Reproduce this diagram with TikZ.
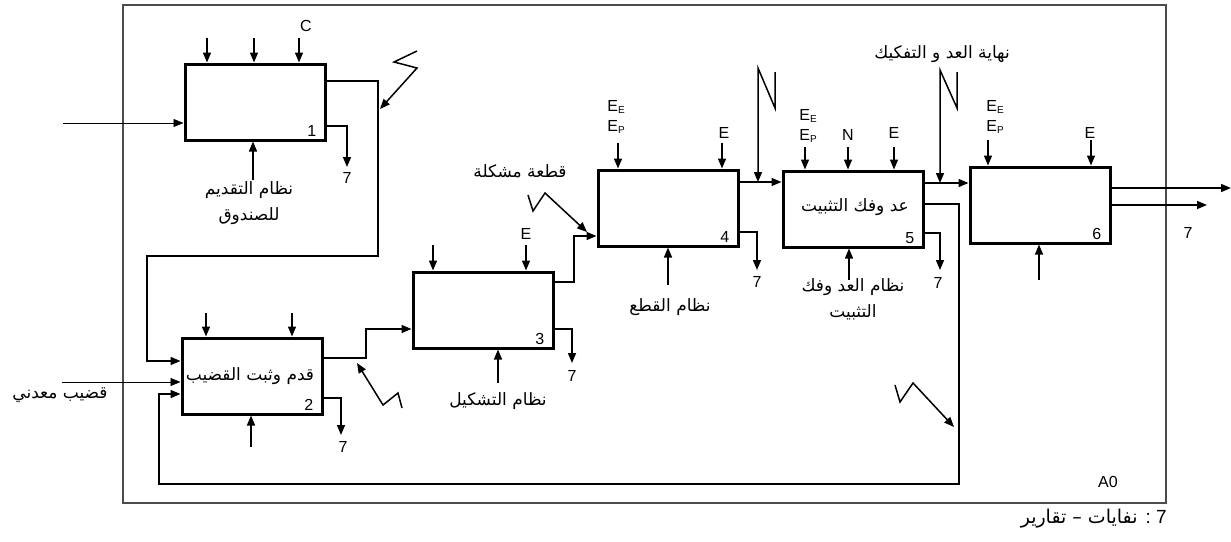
\documentclass[tikz,border=0pt]{standalone}
\usepackage{fontspec}
\setmainfont{Liberation Sans}
\newfontfamily\arabicfont[Script=Arabic]{DejaVu Sans}
\TeXXeTstate=1
\usetikzlibrary{arrows.meta,calc}
\newcommand{\artx}[1]{\beginR #1\endR}
\newcommand{\Esb}[1]{\raisebox{-2.5pt}{\fontsize{10}{10}\selectfont #1}}
\begin{document}
\begin{tikzpicture}[x=1pt,y=-1pt,
  box/.style={draw, line width=3pt, minimum width=140pt, minimum height=76pt, inner sep=0pt},
  con/.style={line width=1.5pt, -{Triangle[length=10pt,width=8pt]}},
  thinarr/.style={line width=0.6pt, -{Triangle[length=10pt,width=8pt]}},
  lat/.style={font=\fontsize{16}{20}\selectfont, inner sep=0pt},
  num/.style={font=\fontsize{16}{20}\selectfont, inner sep=0pt, anchor=south east},
  arl/.style={font=\arabicfont\fontsize{17}{26}\selectfont, align=center, inner sep=0pt},
  frame/.style={draw=black!70, line width=1.4pt}
]
\useasboundingbox (0,0) rectangle (1231,541);
\draw[frame] (123,5) rectangle (1166,503);

% boxes
\node[box] (b1) at (255,102) {};
\node[box] (b2) at (252,376) {};
\node[box] (b3) at (483,310) {};
\node[box] (b4) at (668,208) {};
\node[box] (b5) at (853,209) {};
\node[box] (b6) at (1040,205) {};

\node[num] (n1) at ($(b1.south east)+(-10,-5)$) {1};
\node[num] (n2) at ($(b2.south east)+(-10,-5)$) {2};
\node[num] (n3) at ($(b3.south east)+(-10,-5)$) {3};
\node[num] (n4) at ($(b4.south east)+(-10,-5)$) {4};
\node[num] (n5) at ($(b5.south east)+(-10,-5)$) {5};
\node[num] (n6) at ($(b6.south east)+(-10,-5)$) {6};

\node[arl] (t2) at (250,376) {\artx{قدم وثبت القضيب}};
\node[arl] (t5) at (855,207) {\artx{عد وفك التثبيت}};

% ---- box 1
\foreach \x in {207,254,299} \draw[con] (\x,38) -- (\x,0 |- b1.north);
\node[lat] (c1) at (306,26) {C};
\coordinate (in1) at (63,123);
\draw[thinarr] (in1) -- (b1.west |- in1);
\draw[con] (253,180) -- (253,0 |- b1.south);
\node[arl] (m1) at (249,203) {\artx{نظام التقديم}\\\artx{للصندوق}};
\draw[con] (b1.east |- 0,126) -| (347,167);
\node[lat] (o1) at (347,178) {7};
\coordinate (f1) at (147,361);
\draw[con] (b1.east |- 0,81) -- (378,81) -- (378,256) -- (147,256) -- (f1) -- (b2.west |- f1);
\draw[con] (417,51) -- (394,62) -- (417,68) -- (380,109);

% ---- box 2
\foreach \x in {206,292} \draw[con] (\x,313) -- (\x,0 |- b2.north);
\coordinate (in2) at (62,382);
\draw[thinarr] (in2) -- (b2.west |- in2);
\node[arl] (m2in) at (60,395) {\artx{قضيب معدني}};
\draw[con] (251,447) -- (251,0 |- b2.south);
\draw[con] (b2.east |- 0,398) -| (341,435);
\node[lat] (o2) at (343,447) {7};
\draw[con] (b2.east |- 0,358) -- (366,358) -- (366,329) -- (b3.west |- 0,329);
\draw[con] (402,408) -- (398,393) -- (383,405) -- (357,363);

% ---- box 3
\foreach \x in {433,526} \draw[con] (\x,245) -- (\x,0 |- b3.north);
\node[lat] (e3) at (526,234) {E};
\draw[con] (498,383) -- (498,0 |- b3.south);
\node[arl] (m3) at (498,401) {\artx{نظام التشكيل}};
\draw[con] (b3.east |- 0,329) -| (572,363);
\node[lat] (o3) at (572,376) {7};
\draw[con] (b3.east |- 0,282) -- (574,282) -- (574,236) -- (b4.west |- 0,236);
\node[arl] (m3b) at (520,171) {\artx{قطعة مشكلة}};
\draw[con] (528,195) -- (533,211) -- (545,193) -- (587,232);

% ---- box 4
\foreach \x in {618,722} \draw[con] (\x,143) -- (\x,0 |- b4.north);
\node[lat, align=left] (e4a) at (616,117) {E\Esb{E}\\E\Esb{P}};
\node[lat] (e4b) at (724,133) {E};
\draw[con] (668,285) -- (668,0 |- b4.south);
\node[arl] (m4) at (670,307) {\artx{نظام القطع}};
\draw[con] (b4.east |- 0,232) -| (757,270);
\node[lat] (o4) at (757,282) {7};
\draw[con] (b4.east |- 0,182) -- (b5.west |- 0,182);
\draw[con] (775,72) -- (775,108) -- (758,68) -- (758,182);

% ---- box 5
\foreach \x in {805,848,894} \draw[con] (\x,147) -- (\x,0 |- b5.north);
\node[lat, align=left] (e5a) at (808,126) {E\Esb{E}\\E\Esb{P}};
\node[lat] (n5l) at (848,135) {N};
\node[lat] (e5b) at (894,133) {E};
\draw[con] (849,280) -- (849,0 |- b5.south);
\node[arl] (m5) at (853,299) {\artx{نظام العد وفك}\\\artx{التثبيت}};
\draw[con] (b5.east |- 0,233) -| (940,270);
\node[lat] (o5) at (938,283) {7};
\draw[con] (b5.east |- 0,183) -- (b6.west |- 0,183);
\draw[con] (957,72) -- (957,108) -- (940,70) -- (940,183);
\node[arl] (m5b) at (942,54) {\artx{نهاية العد و التفكيك}};
\coordinate (f2) at (159,394);
\draw[con] (b5.east |- 0,204) -- (959,204) -- (959,484) -- (159,484) -- (f2) -- (b2.west |- f2);
\draw[con] (895,385) -- (900,402) -- (913,383) -- (954,427);

% ---- box 6
\foreach \x in {988,1091} \draw[con] (\x,140) -- (\x,0 |- b6.north);
\node[lat, align=left] (e6a) at (995,117) {E\Esb{E}\\E\Esb{P}};
\node[lat] (e6b) at (1090,133) {E};
\draw[con] (1039,280) -- (1039,0 |- b6.south);
\coordinate (out6a) at (1231,188);
\coordinate (out6b) at (1207,205);
\draw[con] (b6.east |- out6a) -- (out6a);
\draw[con] (b6.east |- out6b) -- (out6b);
\node[lat] (o6) at (1188,233) {7};

\node[lat] (a0) at (1108,482) {A0};
\node[inner sep=0pt, anchor=east] (leg) at (1167,519) {\arabicfont\fontsize{19}{22}\selectfont\artx{{\normalfont\fontsize{19}{22}\selectfont 7 :} نفايات – تقارير}};
\end{tikzpicture}
\end{document}
